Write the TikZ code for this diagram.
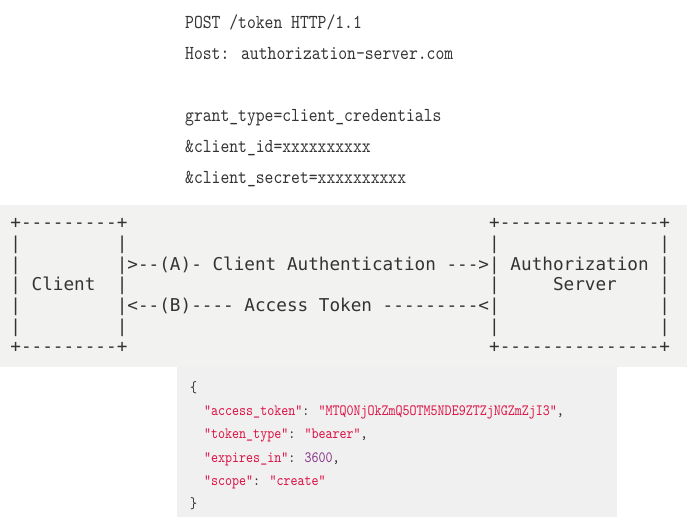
\documentclass[tikz,border=0pt]{standalone}
\usepackage{fontspec}
\setmonofont{DejaVu Sans Mono}
\newfontfamily\reqfont{lmmono10-regular.otf}
\usepackage{xcolor}
\definecolor{bandgray}{HTML}{F2F3F0}
\definecolor{boxgray}{HTML}{F0F0F0}
\definecolor{textgray}{HTML}{333333}
\definecolor{jsonred}{HTML}{DD1144}
\definecolor{jsonnum}{HTML}{883388}
\newcommand{\squeezetext}[1]{\scalebox{0.85}[1]{#1}}
\newcommand{\jstr}[1]{\textcolor{jsonred}{"#1"}}

\begin{document}
\begin{tikzpicture}[x=1pt,y=-1pt]
\useasboundingbox (0,0) rectangle (687,517);
\fill[bandgray] (0,205) rectangle (687,367);
\fill[boxgray] (177,367) rectangle (617,517);

\begin{scope}[every node/.style={anchor=base west,inner sep=0pt,text=textgray,
              font=\reqfont\fontsize{19.8}{22}\selectfont}]
    \node (post) at (185,28) {\squeezetext{POST /token HTTP/1.1}};
    \node (host) at (185,59) {\squeezetext{Host: authorization-server.com}};
    \node (grant) at (185,121) {\squeezetext{grant\_type=client\_credentials}};
    \node (id) at (185,152) {\squeezetext{\&client\_id=xxxxxxxxxx}};
    \node (secret) at (185,183) {\squeezetext{\&client\_secret=xxxxxxxxxx}};
\end{scope}

\begin{scope}[shift={(10.2,0)},x=10.64pt,
              every node/.style={anchor=base west,inner sep=0pt,text=textgray,
              font=\ttfamily\fontsize{17.67}{20}\selectfont}]
    \node (cl1) at (0,228.6) {+---------+};
    \node (cl2) at (0,249.3) {|~~~~~~~~~|};
    \node (cl3) at (0,270.0) {|~~~~~~~~~|};
    \node (cl4) at (0,290.7) {|~Client~~|};
    \node (cl5) at (0,311.4) {|~~~~~~~~~|};
    \node (cl6) at (0,332.1) {|~~~~~~~~~|};
    \node (cl7) at (0,352.8) {+---------+};
    \node (as1) at (45,228.6) {+---------------+};
    \node (as2) at (45,249.3) {|~~~~~~~~~~~~~~~|};
    \node (as3) at (45,270.0) {|~Authorization~|};
    \node (as4) at (45,290.7) {|~~~~~Server~~~~|};
    \node (as5) at (45,311.4) {|~~~~~~~~~~~~~~~|};
    \node (as6) at (45,332.1) {|~~~~~~~~~~~~~~~|};
    \node (as7) at (45,352.8) {+---------------+};
    \node (msgA) at (11,270.0) {>--(A)- Client Authentication --->};
    \node (msgB) at (11,311.4) {<--(B)---- Access Token ---------<};
\end{scope}

\begin{scope}[every node/.style={anchor=base west,inner sep=0pt,text=textgray,
              font=\reqfont\fontsize{15.7}{18}\selectfont}]
    \node (open) at (190,392.5) {\squeezetext{\{}};
    \node (token) at (204,415.7) {\squeezetext{\jstr{access\_token}: \jstr{MTQ0NjOkZmQ5OTM5NDE9ZTZjNGZmZjI3},}};
    \node (type) at (204,438.9) {\squeezetext{\jstr{token\_type}: \jstr{bearer},}};
    \node (expires) at (204,462.1) {\squeezetext{\jstr{expires\_in}: \textcolor{jsonnum}{3600},}};
    \node (scope) at (204,485.3) {\squeezetext{\jstr{scope}: \jstr{create}}};
    \node (close) at (190,508.5) {\squeezetext{\}}};
\end{scope}
\end{tikzpicture}
\end{document}
